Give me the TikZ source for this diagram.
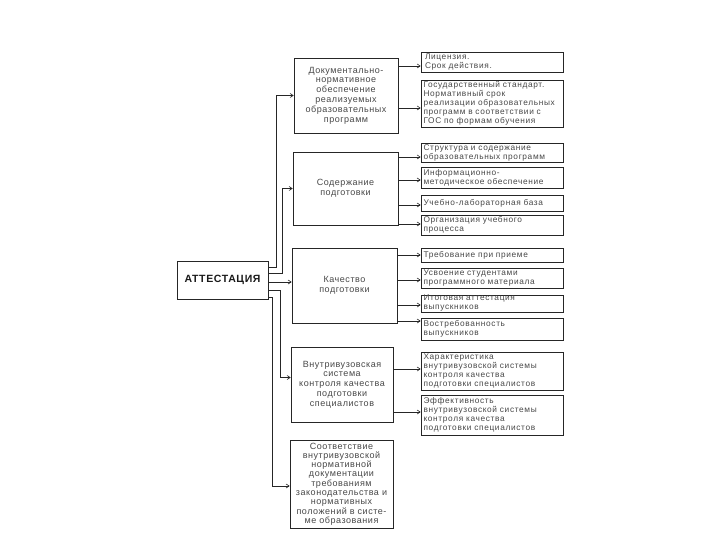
\documentclass[tikz,border=0pt]{standalone}
\usepackage{fontspec}
\setmainfont{Liberation Sans}
\newfontfamily\sparsefont[LetterSpace=6]{Liberation Sans}
\newfontfamily\widefont[LetterSpace=8]{Liberation Sans}
\usetikzlibrary{calc,arrows.meta}
\begin{document}
\begin{tikzpicture}[x=1pt,y=-1pt,
 box/.style={draw=black!85, line width=0.7pt, inner sep=0pt, align=center,
   font=\sparsefont\fontsize{9}{9.8}\selectfont, text=black!72},
 rbox/.style={draw=black!85, line width=0.6pt, minimum width=142, text width=137,
   inner xsep=2.5, inner ysep=0, align=left,
   font=\widefont\fontsize{8.3}{9}\selectfont, text=black!72},
 arr/.style={draw=black!85, line width=0.6pt, -{Straight Barb[length=3pt,width=4pt]}}]
\useasboundingbox (0,0) rectangle (720,540);

% main node
\node[box, minimum width=91, minimum height=38,
  font=\sparsefont\bfseries\fontsize{10.5}{12}\selectfont, text=black!90] (a) at (222.5,280) {АТТЕСТАЦИЯ};

% middle column
\node[box, minimum width=104, minimum height=75] (m1) at (346,95.5)
  {Документально-\\нормативное\\обеспечение\\реализуемых\\образовательных\\программ};
\node[box, minimum width=105, minimum height=73] (m2) at (345.5,188.5)
  {Содержание\\подготовки};
\node[box, minimum width=105, minimum height=75] (m3) at (344.5,285.5)
  {Качество\\подготовки};
\node[box, minimum width=102, minimum height=75] (m4) at (342,384.5)
  {Внутривузовская\\система\\контроля качества\\подготовки\\специалистов};
\node[box, minimum width=103, minimum height=88, font=\sparsefont\fontsize{9}{9.3}\selectfont] (m5) at (341.5,484)
  {Соответствие\\внутривузовской\\нормативной\\документации\\требованиям\\законодательства и\\нормативных\\положений в систе-\\ме образования};

% right column
\node[rbox, minimum height=20] (r1) at (492,62) {\hspace*{1.5pt}Лицензия.\\\hspace*{1.5pt}Срок действия.};
\node[rbox, minimum height=47] (r2) at (492,103.5)
  {Государственный стандарт.\\Нормативный срок\\реализации образовательных\\программ в соответствии с\\ГОС по формам обучения};
\node[rbox, minimum height=19] (r3) at (492,152.5) {Структура и содержание\\образовательных программ};
\node[rbox, minimum height=21] (r4) at (492,177.5) {Информационно-\\методическое обеспечение};
\node[rbox, minimum height=16] (r5) at (492,203) {Учебно-лабораторная база};
\node[rbox, minimum height=20] (r6) at (492,225) {Организация учебного\\процесса};
\node[rbox, minimum height=14] (r7) at (492,255) {Требование при приеме};
\node[rbox, minimum height=20] (r8) at (492,278) {Усвоение студентами\\программного материала};
\node[rbox, minimum height=17] (r9) at (492,303.5) {Итоговая аттестация\\выпускников};
\node[rbox, minimum height=22] (r10) at (492,329) {Востребованность\\выпускников};
\node[rbox, minimum height=38] (r11) at (492,371)
  {Характеристика\\внутривузовской системы\\контроля качества\\подготовки специалистов};
\node[rbox, minimum height=40] (r12) at (492,415)
  {Эффективность\\внутривузовской системы\\контроля качества\\подготовки специалистов};

% connectors from main node
\draw[arr] ($(a.east)+(0,-13)$) -| ($(m1.west)+(-17,0)$) -- (m1.west);
\draw[arr] ($(a.east)+(0,-7)$) -| ($(m2.west)+(-10,0)$) -- (m2.west);
\draw[arr] ($(a.east)+(0,2)$) coordinate (a3) -- (a3 -| m3.west);
\draw[arr] ($(a.east)+(0,10)$) -| ($(m4.west)+(-10,-7)$) -- ($(m4.west)+(0,-7)$);
\draw[arr] ($(a.east)+(0,17)$) -| ($(m5.west)+(-17,2)$) -- ($(m5.west)+(0,2)$);

% connectors to right column
\foreach \m/\r/\yy in {m1/r1/66, m1/r2/108, m2/r3/157, m2/r4/180, m2/r5/205, m2/r6/224,
  m3/r7/255, m3/r8/280, m3/r9/305, m3/r10/321, m4/r11/369, m4/r12/412}
  \draw[arr] (\m.east |- 0,\yy) -- (\r.west |- 0,\yy);
\end{tikzpicture}
\end{document}
